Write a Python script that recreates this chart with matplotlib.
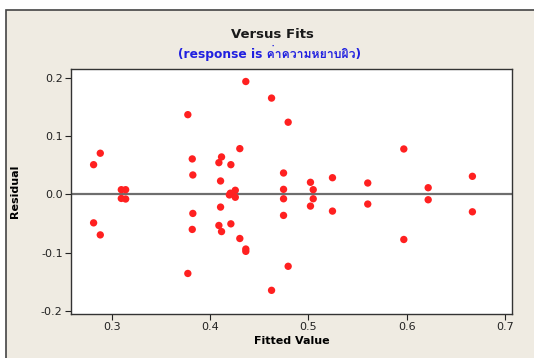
import matplotlib
matplotlib.use("Agg")
import matplotlib.pyplot as plt
from matplotlib import font_manager
from matplotlib.ft2font import FT2Font
from matplotlib.patches import Rectangle

# ---- data ----
fitted = [0.2813, 0.2813, 0.2881, 0.2881,
          0.3095, 0.3139, 0.3095, 0.3139,
          0.3772, 0.3772, 0.3817, 0.3823, 0.3823, 0.3817,
          0.4088, 0.4088, 0.4115, 0.4115, 0.4105, 0.4105,
          0.4210, 0.4210, 0.4205, 0.4195, 0.4255, 0.4255,
          0.4301, 0.4301, 0.4362, 0.4362, 0.4362,
          0.4624, 0.4624, 0.4746, 0.4746, 0.4746, 0.4746,
          0.4793, 0.4793, 0.5020, 0.5020, 0.5048, 0.5048,
          0.5244, 0.5244, 0.5603, 0.5603, 0.5970, 0.5970,
          0.6218, 0.6218, 0.6668, 0.6668]
residual = [0.051, -0.049, 0.0707, -0.0697,
            0.008, 0.008, -0.007, -0.008,
            0.137, -0.136, 0.0609, 0.0333, -0.0328, -0.0603,
            0.0545, -0.0535, 0.0643, -0.064, 0.023, -0.0219,
            0.051, -0.0507, 0.002, -0.001, 0.007, -0.005,
            0.0786, -0.0759, 0.194, -0.094, -0.098,
            0.1655, -0.165, 0.0367, 0.0086, -0.0076, -0.0362,
            0.124, -0.1237, 0.0207, -0.0202, 0.008, -0.0076,
            0.0286, -0.0288, 0.0195, -0.0167, 0.078, -0.0776,
            0.0114, -0.0093, 0.031, -0.030]
x_ticks = [0.3, 0.4, 0.5, 0.6, 0.7]
y_ticks = [-0.2, -0.1, 0.0, 0.1, 0.2]
title = "Versus Fits"
subtitle = "(response is ค่าความหยาบผิว)"
xlabel = "Fitted Value"
ylabel = "Residual"

# ---- find a font with Thai glyphs ----
thai_family = None
for f in font_manager.fontManager.ttflist:
    try:
        cm = FT2Font(f.fname).get_charmap()
        if 0x0E04 in cm and 0x0E27 in cm:
            thai_family = f.name
            break
    except Exception:
        pass
fams = ["DejaVu Sans"] + ([thai_family] if thai_family else [])
plt.rcParams["font.family"] = fams

fig = plt.figure(figsize=(5.34, 3.58), dpi=100)
fig.patch.set_facecolor("white")
bg = Rectangle((6 / 534, -0.05), 1.2, 1 - 10 / 358 + 0.05,
               transform=fig.transFigure, facecolor="#EFEBE2",
               edgecolor="#444444", linewidth=1.2, zorder=-5)
fig.patches.append(bg)

ax = fig.add_axes([71 / 534, 44 / 358, 441 / 534, 245 / 358])
ax.set_zorder(2)
ax.set_facecolor("white")
ax.set_xlim(0.2583, 0.7071)
ax.set_ylim(-0.2057, 0.2155)
ax.axhline(0, color="#6e6e6e", linewidth=1.6, zorder=1)
ax.scatter(fitted, residual, s=28, color="#FF2020", edgecolors="none", zorder=3)

ax.set_xticks(x_ticks)
ax.set_xticklabels([f"{v:.1f}" for v in x_ticks])
ax.set_yticks(y_ticks)
ax.set_yticklabels([f"{v:.1f}" for v in y_ticks])
ax.tick_params(direction="out", length=4, width=0.8, labelsize=8,
               colors="#222222", pad=2)
for s in ax.spines.values():
    s.set_color("#333333")
    s.set_linewidth(1.0)

ax.set_xlabel(xlabel, fontsize=8, fontweight="bold", labelpad=3)
ax.set_ylabel(ylabel, fontsize=8, fontweight="bold")
ax.yaxis.set_label_coords((20 - 71) / 441, 0.5)

fig.text(272 / 534, 1 - 35 / 358, title, ha="center", va="center",
         fontsize=9.5, fontweight="bold", color="#1a1a1a")
fig.text(270 / 534, 1 - 53 / 358, subtitle, ha="center", va="center",
         fontsize=8.8, fontweight="bold", color="#2020E0")

fig.savefig("out.png", dpi=100, facecolor=fig.get_facecolor())
